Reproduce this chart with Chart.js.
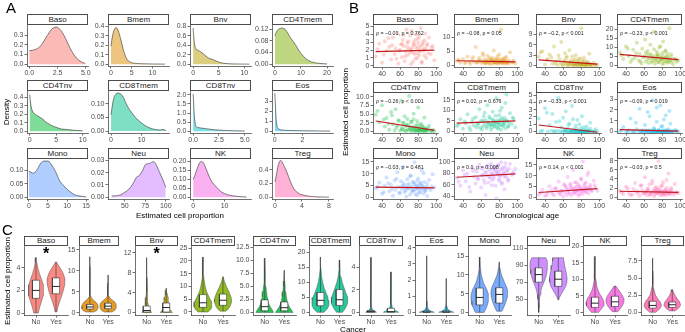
<!DOCTYPE html>
<html>
<head>
<meta charset="utf-8">
<script src="https://cdn.jsdelivr.net/npm/chart.js@4.4.1/dist/chart.umd.min.js"></script>
<style>
  html, body { margin:0; padding:0; background:#ffffff; }
  #fig { position:relative; width:685px; height:332px; overflow:hidden; background:#fff;
         font-family:"Liberation Sans", Arial, Helvetica, sans-serif; color:#000; }
  #fig canvas { position:absolute; }
  .strip { position:absolute; box-sizing:border-box; border:1px solid #4d4d4d; background:#fff;
           font-size:8px; color:#1a1a1a; text-align:center; white-space:nowrap; overflow:hidden; }
  .letter { position:absolute; font-size:15px; line-height:15px; }
  .title { position:absolute; font-size:8px; line-height:9px; white-space:nowrap; color:#000; }
  .rot { transform: translate(-50%,-50%) rotate(-90deg); }
  .ctr { transform: translate(-50%,-50%); }
  .corr { position:absolute; font-size:5.3px; line-height:6px; color:#222; white-space:nowrap; }
  .star { position:absolute; font-size:16px; font-weight:bold; line-height:16px; transform:translateX(-50%); }
</style>
</head>
<body>
<div id="fig"></div>
<script>
// ---------------- shared ----------------
const cellTypes = ["Baso","Bmem","Bnv","CD4Tmem","CD4Tnv","CD8Tmem","CD8Tnv","Eos","Mono","Neu","NK","Treg"];
const palette = ["#F8766D","#DE8C00","#B79F00","#7CAE00","#00BA38","#00C08B","#00BFC4","#00B4F0","#619CFF","#C77CFF","#F564E3","#FF64B0"];

// ---------------- panel A: density ----------------
const densityX = [
  [0,0.3,0.6,1.0,1.4,1.8,2.1,2.4,2.8,3.2,3.6,4.0,4.4,4.8,4.95],
  [0,0.4,0.8,1.2,1.6,2.0,2.5,3.0,3.5,4.0,5,6,8,10,13],
  [0,0.2,0.5,1,1.5,2,2.5,3,3.5,4,5,6,8,11],
  [0,0.5,1,2,3,4,5,6,7,8,9,10,12,14,17,20],
  [0,0.2,0.5,1,1.5,2,2.5,3,3.5,4,5,6,7,8,10],
  [0,0.5,1,1.5,2,3,4,5,6,7,8,10,12,14,16,17,18],
  [0,0.05,0.1,0.2,0.3,0.5,0.8,1.2,1.6,2,2.5,3,4,5],
  [0,0.03,0.06,0.1,0.15,0.2,0.3,0.5,0.8,1.2,1.6,2,2.5,3,3.5,4],
  [0,0.5,1,1.5,2,2.5,3,3.5,4,5,5.5,6,7,8,9,10,11,12,13,14,15],
  [34,40,45,50,55,60,64,68,72,75,80,85,88,92,96,100],
  [0,0.5,1,1.5,2,2.5,3,3.5,4,5,6,7,8,9,10,12,14,17],
  [0,0.2,0.4,0.6,0.8,1.0,1.3,1.6,2.0,2.4,2.8,3.2,3.6,4,5,6,8]
];
const densityY = [
  [0.14,0.145,0.155,0.19,0.26,0.335,0.375,0.385,0.35,0.27,0.17,0.09,0.04,0.015,0.008],
  [0.19,0.3,0.36,0.385,0.37,0.32,0.24,0.15,0.085,0.045,0.016,0.008,0.004,0.002,0.001],
  [0.76,0.5,0.33,0.29,0.26,0.22,0.17,0.13,0.11,0.09,0.045,0.018,0.005,0.001],
  [0.097,0.108,0.116,0.122,0.123,0.118,0.105,0.09,0.078,0.065,0.05,0.037,0.018,0.008,0.003,0.001],
  [0.43,0.32,0.24,0.2,0.18,0.16,0.14,0.11,0.09,0.07,0.045,0.025,0.02,0.012,0.004],
  [0.06,0.1,0.125,0.135,0.14,0.138,0.125,0.1,0.08,0.065,0.05,0.03,0.015,0.007,0.004,0.006,0.002],
  [2.05,1.6,1.0,0.45,0.25,0.2,0.17,0.14,0.11,0.08,0.06,0.04,0.02,0.008],
  [3.85,3.1,2.2,1.2,0.6,0.35,0.2,0.12,0.08,0.06,0.05,0.04,0.03,0.02,0.01,0.005],
  [0.096,0.094,0.09,0.092,0.1,0.112,0.125,0.132,0.135,0.135,0.13,0.12,0.095,0.063,0.045,0.03,0.018,0.009,0.005,0.003,0.001],
  [0.001,0.0012,0.002,0.004,0.0065,0.011,0.016,0.018,0.022,0.0265,0.0275,0.029,0.027,0.021,0.015,0.008],
  [0.1,0.12,0.145,0.17,0.19,0.2,0.198,0.185,0.165,0.12,0.085,0.065,0.045,0.03,0.02,0.01,0.005,0.001],
  [0.22,0.32,0.43,0.5,0.53,0.52,0.46,0.4,0.3,0.2,0.12,0.08,0.05,0.035,0.015,0.006,0.001]
];
const densityXTicks = [["0.0","2.5","5.0"],["0","5","10"],["0","5","10"],["0","10","20"],["0","5","10"],["0","10"],
  ["0.0","2.5","5.0"],["0","2"],["0","5","10","15"],["50","75","100"],["0","10"],["0","4","8"]];
const densityYTicks = [["0.0","0.1","0.2","0.3"],["0.0","0.1","0.2","0.3","0.4"],["0.0","0.2","0.4","0.6","0.8"],
  ["0.00","0.04","0.08","0.12"],["0.0","0.1","0.2","0.3","0.4"],["0.00","0.05","0.10"],["0.0","0.5","1.0","1.5","2.0"],
  ["0","1","2","3"],["0.00","0.05","0.10"],["0.00","0.01","0.02","0.03"],["0.00","0.05","0.10","0.15","0.20"],["0.0","0.2","0.4"]];
const densityXRange = [[-0.2,5.2],[-0.7,14],[-0.6,11.3],[-1.1,22.3],[-0.5,11],[-1,19],[-0.3,5.6],[-0.2,4.2],[-0.5,15.5],[29.5,104],[-1,18.4],[-0.45,8.6]];
const densityYRange = [[-0.019,0.405],[-0.019,0.41],[-0.038,0.82],[-0.006,0.133],[-0.022,0.47],[-0.007,0.147],[-0.1,2.2],[-0.19,4.05],[-0.0068,0.142],[-0.0015,0.031],[-0.01,0.213],[-0.026,0.55]];

// ---------------- panel B: scatter vs age ----------------
const ages = [33,37,40,43,45,48,50,52,54,55,57,58,60,61,62,63,64,65,66,67,68,69,70,71,72,73,74,75,76,77,78,79,80,80,81,82,83,84,85,86,87,88,89,90,92,94,96,98,
  35,42,47,51,56,59,62,64,66,68,69,71,72,73,74,75,76,77,78,79,80,81,82,83,84,85,86,87,88,90,91,95];
const scatterValues = [
  [1.2,2.8,0.4,3.1,1.9,2.4,0.8,3.6,1.5,2.2,4.2,0.3,2.0,2.7,1.1,3.3,2.5,0.6,1.8,4.6,2.9,1.4,2.1,3.8,0.2,2.3,1.7,3.0,2.6,0.9,4.0,1.6,2.4,3.4,1.3,2.0,4.8,0.5,2.7,1.9,3.2,2.2,1.0,2.8,3.6,1.5,2.5,0.7,
   2.1,1.4,3.5,2.6,0.9,1.9,2.8,3.9,1.2,2.4,3.1,1.7,2.0,4.4,0.5,2.7,1.5,3.3,2.2,1.0,2.9,3.7,1.8,2.5,0.4,3.0,2.1,1.3,4.1,2.6,1.6,2.3],
  [1.5,0.8,2.2,1.1,3.0,0.5,1.8,1.2,6.5,0.9,1.6,2.5,0.7,1.3,4.2,1.0,2.0,0.6,1.4,3.3,1.1,0.8,2.7,1.9,0.4,1.5,5.2,1.2,0.9,2.3,1.7,0.6,3.8,1.0,1.4,12.8,0.7,2.1,1.3,0.5,1.8,2.9,0.8,1.1,4.6,0.9,1.5,0.6,
   1.9,0.6,1.2,2.8,0.9,1.5,3.5,0.7,1.1,2.0,0.5,1.6,1.3,2.4,0.8,1.0,1.7,0.6,3.1,1.4,0.9,2.2,1.2,0.7,1.8,1.1,2.6,0.8,1.3,0.5,1.6,1.0],
  [2.5,4.1,0.3,1.8,3.2,0.6,5.5,1.2,0.2,2.9,0.8,6.8,0.1,1.5,3.6,0.4,2.2,0.1,1.0,4.4,0.2,0.7,2.6,0.1,1.3,0.3,3.0,0.1,0.9,1.9,0.2,0.5,10.8,0.1,1.4,0.3,2.3,0.1,0.6,0.2,1.1,0.1,3.4,0.4,0.1,0.8,0.2,0.1,
   3.8,1.6,2.4,0.5,1.9,0.3,1.1,2.7,0.2,0.8,1.5,0.1,0.6,1.8,0.2,0.4,1.2,0.1,0.7,2.0,0.1,0.3,0.9,0.2,1.4,0.1,0.5,0.2,0.8,0.1,0.3,0.1],
  [7.2,3.5,10.4,5.1,1.8,8.6,4.2,12.5,2.6,6.3,0.9,9.1,4.8,14.2,2.1,5.7,7.9,1.2,3.9,11.3,6.0,2.4,4.5,18.6,0.8,3.2,7.4,5.2,1.6,9.8,2.9,4.1,6.6,0.7,13.1,3.6,2.2,8.2,5.0,1.4,4.3,20.5,2.7,6.1,0.5,3.4,1.9,2.6,
   5.5,9.2,3.1,6.8,2.0,4.4,7.1,3.3,5.9,1.5,4.0,8.8,2.5,5.3,3.7,6.2,1.8,4.9,10.5,2.9,3.5,5.0,1.1,7.6,4.2,2.3,6.4,3.0,1.6,4.6,2.1,3.2],
  [4.8,2.6,7.5,1.4,3.9,0.5,5.6,2.1,0.3,6.4,1.7,3.2,0.2,8.9,1.0,2.5,0.4,4.4,0.1,1.9,3.6,0.6,10.2,1.2,0.2,2.8,0.8,5.1,0.1,1.5,0.4,3.0,0.2,6.9,0.9,0.1,2.2,0.5,1.3,0.1,4.0,0.3,0.8,0.1,1.6,0.2,0.5,0.1,
   5.9,3.4,2.2,4.6,1.1,3.0,0.6,2.4,1.5,0.3,1.9,0.8,2.8,0.2,1.2,3.5,0.5,0.9,0.1,2.0,0.4,1.4,0.2,0.7,1.8,0.1,0.6,1.1,0.2,0.4,0.9,0.1],
  [2.5,5.8,1.2,3.9,8.1,0.6,4.4,2.8,6.7,1.9,3.3,10.5,4.9,0.9,2.4,7.2,3.6,5.3,1.5,12.4,4.1,2.7,6.1,0.8,3.4,9.3,5.0,2.2,4.6,15.8,1.7,3.8,7.7,2.9,5.5,0.7,11.2,4.3,3.1,6.4,1.4,17.6,4.7,2.6,8.6,3.5,5.9,2.0,
   3.1,4.7,2.0,6.0,3.8,1.6,5.1,8.9,2.6,4.2,6.9,3.3,1.9,5.6,4.0,2.8,7.4,3.6,5.2,1.3,4.5,9.8,3.0,6.2,2.4,4.9,3.7,13.5,5.4,2.2,4.1,6.6],
  [1.8,0.1,3.2,0.0,0.9,2.4,0.0,1.3,0.1,4.6,0.0,0.6,1.9,0.0,0.2,2.8,0.0,0.4,0.0,1.1,0.0,0.1,3.5,0.0,0.3,0.0,0.8,0.0,1.6,0.0,0.1,0.0,0.5,0.0,2.1,0.0,0.2,0.0,0.0,0.7,0.0,0.1,0.0,1.2,0.0,0.0,0.3,0.0,
   0.0,2.6,0.1,0.0,1.4,0.0,0.2,0.0,0.9,0.0,0.0,1.7,0.0,0.1,0.0,0.4,0.0,0.0,1.0,0.0,0.1,0.0,0.0,0.6,0.0,0.0,0.2,0.0,0.0,0.4,0.0,0.0],
  [0.0,0.4,0.0,0.1,1.2,0.0,0.0,0.2,0.0,2.1,0.0,0.1,0.0,0.6,0.0,0.0,1.8,0.0,0.1,0.0,0.0,2.9,0.0,0.3,0.0,0.0,0.9,0.0,0.1,0.0,2.4,0.0,0.0,0.5,0.0,0.1,0.0,1.5,0.0,0.0,0.2,0.0,0.7,0.0,0.0,0.1,0.0,0.0,
   0.1,0.0,0.0,0.8,0.0,0.0,0.1,0.0,1.4,0.0,0.0,0.2,0.0,0.0,2.2,0.0,0.1,0.0,0.0,0.4,0.0,0.0,1.1,0.0,0.0,0.1,0.0,0.0,1.9,0.0,0.0,0.1],
  [3.8,6.2,1.5,4.9,8.4,2.6,5.3,0.7,7.1,3.2,10.6,4.4,1.9,6.8,3.5,12.9,5.0,2.3,4.1,0.4,7.6,3.9,5.7,1.2,9.2,4.6,2.8,6.3,14.8,3.3,5.1,0.9,4.0,8.0,2.1,5.8,3.6,11.4,4.8,1.6,6.5,2.9,4.3,0.6,7.3,3.1,9.7,4.2,
   4.5,2.2,5.9,3.4,7.8,1.8,4.7,6.0,2.9,5.2,3.7,8.9,4.1,2.5,6.6,3.0,5.5,1.3,4.4,7.0,3.6,5.0,2.0,6.3,4.9,3.2,10.2,4.0,2.7,5.6,3.8,4.6],
  [72,58,85,66,79,48,90,74,62,83,70,95,55,77,88,68,81,42,76,92,64,86,73,97,59,80,71,89,84,36,78,93,67,82,75,99,61,87,79,52,91,74,85,69,96,77,83,88,
   65,78,56,84,71,89,76,63,82,93,73,80,68,87,75,91,58,84,79,95,70,86,77,64,90,81,74,98,83,67,88,79],
  [1.2,3.5,0.6,2.4,5.1,1.8,0.9,4.2,2.7,7.3,1.5,3.1,0.4,6.0,2.2,4.8,1.1,9.4,3.6,2.0,5.5,0.8,3.9,12.6,2.5,4.4,1.7,6.7,3.2,0.7,5.0,2.9,8.1,4.1,1.4,16.5,3.4,6.2,2.3,4.6,10.3,1.9,3.8,5.7,2.8,7.6,4.3,3.0,
   2.0,1.0,3.3,4.0,1.6,2.9,5.4,3.7,2.1,6.3,4.5,1.8,3.5,7.0,2.6,4.9,3.1,5.8,1.5,4.2,8.7,3.4,2.4,5.2,4.0,6.8,2.9,3.8,11.4,4.7,3.2,5.5],
  [1.4,0.7,2.3,1.0,0.4,1.8,3.1,0.9,1.2,0.3,2.6,1.5,0.8,4.4,1.1,0.5,1.9,1.3,2.8,0.6,1.0,3.6,1.4,0.2,2.1,1.2,0.8,1.6,7.9,0.9,1.3,2.4,0.5,1.1,3.3,0.7,1.5,0.4,2.0,1.0,5.2,0.8,1.2,1.7,0.6,2.9,1.1,0.9,
   1.1,1.9,0.6,1.4,2.5,0.8,1.2,1.7,0.5,1.0,3.0,1.3,0.7,1.6,2.2,0.9,1.1,1.8,0.4,1.3,2.6,1.0,0.7,1.5,1.2,3.8,0.9,1.4,0.6,2.0,1.1,0.8]
];
const trendStart = [1.8,1.55,1.6,6.0,3.0,3.9,0.9,0.17,4.3,73,2.2,1.3];
const trendEnd   = [2.0,1.15,0.4,3.1,0.3,5.0,-0.1,0.03,4.0,79,4.0,1.05];
const corrLabels = ["ρ = −0.01, p = 0.762","ρ = −0.08, p = 0.05","ρ = −0.2, p < 0.001","ρ = −0.23, p < 0.001",
  "ρ = −0.26, p < 0.001","ρ = 0.02, p = 0.676","ρ = −0.33, p < 0.001","ρ = −0.09, p = 0.019",
  "ρ = −0.03, p = 0.481","ρ = 0.1, p = 0.008","ρ = 0.14, p < 0.001","ρ = −0.03, p = 0.5"];
const ageTicks = ["40","60","80","100"];
const ageRange = [30,102];
const scatterYTicks = [["0","1","2","3","4","5"],["0","5","10"],["0","3","6","9"],["0","5","10","15","20"],
  ["0.0","2.5","5.0","7.5","10.0"],["0","5","10","15"],["0","1","2","3","4","5"],["0","1","2","3"],
  ["0","5","10","15"],["40","60","80","100"],["0","5","10","15"],["0","2","4","6","8"]];
const scatterYRange = [[-0.15,5.15],[-0.7,14.3],[-0.45,11.7],[-1,22.2],[-0.45,11.0],[-0.8,18.2],[-0.2,5.27],[-0.15,3.55],[-0.7,16.1],[35,104.5],[-0.8,17.6],[-0.4,8.35]];

// ---------------- panel C: violins by cancer ----------------
const groups = ["No","Yes"];
// [value, relative density width]
const violinNo = [
  [[0,0.25],[0.5,0.4],[1,0.6],[1.5,0.78],[2,0.85],[2.5,0.8],[3,0.6],[3.5,0.38],[4,0.2],[4.5,0.08],[4.9,0.02]],
  [[0.2,0.45],[0.5,0.8],[1,0.97],[1.5,1.0],[2,0.95],[2.5,0.75],[3,0.45],[3.5,0.2],[4,0.1],[5,0.05],[7,0.025],[9,0.015],[11,0.01],[13.3,0.005]],
  [[0,0.55],[0.3,0.45],[0.6,0.3],[1,0.22],[1.5,0.18],[2,0.14],[3,0.1],[4,0.07],[5,0.05],[7,0.03],[9,0.02],[11,0.01]],
  [[0,0.55],[1,0.85],[2,1.0],[3,1.0],[4,0.92],[5,0.8],[6,0.65],[8,0.4],[10,0.25],[12,0.14],[14,0.08],[17,0.04],[21.5,0.01]],
  [[0,1.0],[0.5,0.85],[1,0.65],[1.5,0.5],[2,0.4],[3,0.28],[4,0.2],[5,0.13],[6,0.08],[8,0.04],[10.4,0.01]],
  [[0,0.4],[1,0.75],[2,0.95],[3,1.0],[4,0.97],[5,0.88],[6,0.72],[8,0.45],[10,0.26],[12,0.13],[15,0.05],[18.5,0.01]],
  [[0,0.6],[0.1,0.4],[0.2,0.2],[0.4,0.08],[0.7,0.04],[1,0.03],[2,0.02],[3,0.015],[4.9,0.005]],
  [[0,0.85],[0.05,0.6],[0.1,0.35],[0.2,0.15],[0.4,0.06],[0.7,0.03],[1,0.02],[2,0.015],[3.5,0.005]],
  [[0,0.5],[1,0.7],[2,0.88],[3,0.98],[4,1.0],[5,0.95],[6,0.82],[7,0.62],[8,0.42],[10,0.18],[12,0.07],[14.8,0.01]],
  [[34,0.01],[40,0.04],[45,0.06],[50,0.1],[55,0.16],[60,0.25],[65,0.4],[70,0.6],[75,0.78],[80,0.9],[85,0.97],[90,1.0],[95,0.95],[99,0.8]],
  [[0,0.4],[1,0.7],[2,0.95],[3,1.0],[4,0.88],[5,0.66],[6,0.45],[7,0.3],[8,0.2],[10,0.1],[13,0.04],[17,0.01]],
  [[0,0.35],[0.5,0.8],[1,1.0],[1.5,0.85],[2,0.55],[2.5,0.32],[3,0.2],[3.5,0.12],[4,0.07],[5,0.035],[6,0.02],[7.9,0.005]]
];
const violinYes = [
  [[0.1,0.1],[0.5,0.2],[1,0.4],[1.5,0.62],[2,0.82],[2.5,0.97],[3,1.0],[3.5,0.8],[4,0.45],[4.3,0.2],[4.5,0.05]],
  [[0.2,0.45],[0.5,0.75],[1,0.95],[1.5,1.0],[2,0.98],[2.5,0.85],[3,0.55],[3.5,0.25],[4,0.1],[5,0.04],[7,0.02],[9,0.01]],
  [[0,0.7],[0.3,0.55],[0.6,0.42],[1,0.38],[1.5,0.34],[2,0.3],[2.5,0.25],[3,0.2],[3.5,0.14],[4,0.08],[4.5,0.04],[4.9,0.02]],
  [[0.3,0.3],[1,0.55],[2,0.75],[3,0.88],[4,0.95],[5,0.95],[6,0.88],[8,0.65],[10,0.38],[12,0.15],[13.8,0.03]],
  [[0,1.0],[0.5,0.8],[1,0.6],[1.5,0.45],[2,0.35],[3,0.24],[4,0.16],[5,0.1],[6,0.06],[8.1,0.01]],
  [[0,0.35],[1,0.6],[2,0.8],[3,0.92],[4,0.97],[5,0.92],[6,0.8],[8,0.55],[10,0.32],[12,0.16],[15,0.06],[17.5,0.01]],
  [[0,0.85],[0.1,0.6],[0.2,0.35],[0.4,0.15],[0.7,0.08],[1,0.05],[1.5,0.04],[1.8,0.06],[2.2,0.03],[3.6,0.005]],
  [[0,0.85],[0.05,0.62],[0.1,0.38],[0.2,0.16],[0.4,0.06],[0.7,0.03],[1,0.02],[2.1,0.005]],
  [[0.3,0.3],[1,0.45],[2,0.62],[3,0.78],[4,0.9],[5,0.95],[6,0.92],[7,0.8],[8,0.6],[10,0.25],[12,0.07],[13.5,0.02]],
  [[49,0.05],[52,0.15],[55,0.3],[60,0.58],[65,0.85],[70,0.98],[75,1.0],[80,0.93],[85,0.82],[90,0.72],[95,0.65],[99,0.6]],
  [[0.2,0.3],[1,0.55],[2,0.82],[3,0.98],[4,1.0],[5,0.85],[6,0.6],[7,0.35],[8,0.1]],
  [[0.2,0.3],[0.5,0.65],[1,0.95],[1.5,0.85],[2,0.55],[2.5,0.3],[3,0.12],[3.3,0.04]]
];
// [q1, median, q3]
const boxNo  = [[1.3,2.0,2.9],[0.9,1.4,2.0],[0.1,0.4,1.3],[1.8,3.6,6.8],[0.3,1.1,2.4],[2.2,4.0,6.6],[0.0,0.05,0.15],[0.0,0.02,0.08],[2.0,4.0,6.5],[70,79,87],[1.5,2.8,4.6],[0.6,1.0,1.6]];
const boxYes = [[1.7,2.35,3.1],[1.0,1.6,2.3],[0.1,1.0,1.9],[2.6,4.6,7.0],[0.3,0.9,2.0],[2.3,4.2,7.6],[0.0,0.05,0.35],[0.0,0.02,0.08],[2.5,4.8,6.6],[65,73.5,83],[1.8,3.2,4.9],[0.7,1.1,1.5]];
const violinYTicks = [["0","2","4"],["0","5","10","15"],["0","4","8","12"],["0","5","10","15","20","25"],
  ["0.0","2.5","5.0","7.5","10.0","12.5"],["0","5","10","15","20"],["0","2","4"],["0","1","2","3","4"],
  ["0","5","10","15"],["50","70","90","110"],["0","5","10","15","20"],["0.0","2.5","5.0","7.5"]];
const violinYRange = [[-0.17,5.9],[-0.5,15.8],[-0.5,13.3],[-1.2,25.8],[-0.5,12.7],[-0.9,22.1],[-0.25,5.9],[-0.17,4.1],[-0.7,17.7],[31,112.7],[-0.8,20.1],[-0.4,9.65]];
const significance = ["*","","*","","","","","","","","",""];

// ---------------- drawing ----------------
Chart.defaults.font.family = '"Liberation Sans", Arial, sans-serif';
const fig = document.getElementById('fig');

function rgba(hex, a) {
  const n = parseInt(hex.slice(1), 16);
  return `rgba(${n >> 16},${(n >> 8) & 255},${n & 255},${a})`;
}
function addDiv(cls, text, css) {
  const d = document.createElement('div');
  d.className = cls; d.textContent = text;
  Object.assign(d.style, css);
  fig.appendChild(d);
  return d;
}
const gridOpts = {display:true, drawOnChartArea:false, drawTicks:true, tickLength:2.5, tickWidth:0.7, color:'#333', lineWidth:0.7};
const borderOpts = {display:true, color:'#333', width:0.7};
function valueAxis(range, labels, isX, fit) {
  return {
    type:'linear', position: isX ? 'bottom' : 'left', min:range[0], max:range[1], bounds:'data',
    afterBuildTicks: s => { s.ticks = labels.map(l => ({value: parseFloat(l)})); },
    afterFit: s => { if (isX) s.height = fit; else s.width = fit; },
    grid: gridOpts, border: borderOpts,
    ticks: {autoSkip:false, maxRotation:0, minRotation:0, padding: isX ? 0 : 1, color:'#4d4d4d', font:{size:7},
            callback: (v, i) => labels[i]}
  };
}
function groupAxis(fit) {
  return {
    type:'linear', position:'bottom', min:0.4, max:2.6, bounds:'data',
    afterBuildTicks: s => { s.ticks = groups.map((g, k) => ({value: k + 1})); },
    afterFit: s => { s.height = fit; },
    grid: gridOpts, border: borderOpts,
    ticks: {autoSkip:false, maxRotation:0, minRotation:0, padding:0, color:'#4d4d4d', font:{size:7},
            callback: (v, i) => groups[i]}
  };
}
function makeChart(L, T, W, H, pad, type, datasets, xAxis, yAxis) {
  const c = document.createElement('canvas');
  const cw = pad.ay + W + pad.pr, ch = pad.pt + H + pad.ax;
  c.width = cw; c.height = ch;
  c.style.left = (L - pad.ay) + 'px'; c.style.top = (T - pad.pt) + 'px';
  c.style.width = cw + 'px'; c.style.height = ch + 'px';
  fig.appendChild(c);
  new Chart(c, {
    type, data: {datasets},
    options: {
      responsive:false, animation:false, events:[], devicePixelRatio:1,
      layout: {padding:{top:pad.pt, right:pad.pr, left:0, bottom:0}, autoPadding:false},
      plugins: {legend:{display:false}, tooltip:{enabled:false}, title:{display:false}},
      scales: {x: xAxis, y: yAxis}
    }
  });
}

// Panel A
const layA = {cols:[27,108,190,272], w:61, rows:[25,91,159], h:[41,42,40], strips:[14,80,148]};
cellTypes.forEach((ct, i) => {
  const r = Math.floor(i / 4), c = i % 4;
  const L = layA.cols[c], T = layA.rows[r], W = layA.w, H = layA.h[r];
  const pts = densityX[i].map((x, k) => ({x, y: densityY[i][k]}));
  makeChart(L, T, W, H, {ay:22, ax:11, pt:5, pr:8}, 'line',
    [{data:pts, borderColor:'#333', borderWidth:0.6, backgroundColor:rgba(palette[i], 0.5),
      fill:'origin', pointRadius:0, cubicInterpolationMode:'monotone'}],
    valueAxis(densityXRange[i], densityXTicks[i], true, 11),
    valueAxis(densityYRange[i], densityYTicks[i], false, 22));
  const sh = T - layA.strips[r];
  addDiv('strip', ct, {left:L+'px', top:layA.strips[r]+'px', width:W+'px', height:sh+'px', lineHeight:(sh-2)+'px'});
});

// Panel B
const layB = {cols:[373,454,536,617], w:65, rows:[25,93,159], h:[42,40,40], strips:[14,82,148]};
const ageMin = Math.min(...ages), ageMax = Math.max(...ages);
cellTypes.forEach((ct, i) => {
  const r = Math.floor(i / 4), c = i % 4;
  const L = layB.cols[c], T = layB.rows[r], W = layB.w, H = layB.h[r];
  const pts = ages.map((a, k) => ({x:a, y:scatterValues[i][k]}));
  makeChart(L, T, W, H, {ay:22, ax:11, pt:5, pr:8}, 'scatter', [
      {data:[{x:ageMin, y:trendStart[i]}, {x:ageMax, y:trendEnd[i]}], showLine:true,
       borderColor:'#C4161C', borderWidth:1.2, pointRadius:0, order:0},
      {data:pts, pointRadius:2, backgroundColor:rgba(palette[i], 0.3), borderColor:'rgba(0,0,0,0)',
       borderWidth:0, order:1}
    ],
    valueAxis(ageRange, ageTicks, true, 11),
    valueAxis(scatterYRange[i], scatterYTicks[i], false, 22));
  const sh = T - layB.strips[r];
  addDiv('strip', ct, {left:L+'px', top:layB.strips[r]+'px', width:W+'px', height:sh+'px', lineHeight:(sh-2)+'px'});
  addDiv('corr', corrLabels[i], {left:(L+3)+'px', top:(T+5)+'px'});
});

// Panel C
const layC = {cols:[24,79,135,191,253,309,359,415,468,527,583,641], w:[44,40,43,44,43,42,44,43,43,43,44,43], top:246, h:69, strip:236};
const VW = 0.45, BW = 0.18;
function violinPoly(center, prof) {
  const right = prof.map(([y, w]) => ({x:center + w * VW, y}));
  const left = prof.slice().reverse().map(([y, w]) => ({x:center - w * VW, y}));
  return right.concat(left, [right[0]]);
}
function boxPoly(center, b) {
  return [{x:center-BW, y:b[0]}, {x:center+BW, y:b[0]}, {x:center+BW, y:b[2]}, {x:center-BW, y:b[2]}, {x:center-BW, y:b[0]}];
}
cellTypes.forEach((ct, i) => {
  const L = layC.cols[i], W = layC.w[i], T = layC.top, H = layC.h;
  const ds = [];
  [[violinNo[i], boxNo[i]], [violinYes[i], boxYes[i]]].forEach(([prof, box], g) => {
    const cx = g + 1;
    ds.push({data:violinPoly(cx, prof), fill:'shape', backgroundColor:rgba(palette[i], 0.85),
             borderColor:'rgba(60,60,60,0.85)', borderWidth:0.5, pointRadius:0, order:4});
    ds.push({data:[{x:cx, y:prof[0][0]}, {x:cx, y:prof[prof.length-1][0]}], fill:false,
             borderColor:'#333', borderWidth:0.6, pointRadius:0, order:3});
    ds.push({data:boxPoly(cx, box), fill:'shape', backgroundColor:'#ffffff',
             borderColor:'#333', borderWidth:0.6, pointRadius:0, order:2});
    ds.push({data:[{x:cx-BW, y:box[1]}, {x:cx+BW, y:box[1]}], fill:false,
             borderColor:'#111', borderWidth:0.9, pointRadius:0, order:1});
  });
  makeChart(L, T, W, H, {ay:18, ax:10, pt:5, pr:6}, 'line', ds,
    groupAxis(10), valueAxis(violinYRange[i], violinYTicks[i], false, 18));
  addDiv('strip', ct, {left:L+'px', top:layC.strip+'px', width:W+'px', height:(T-layC.strip)+'px', lineHeight:(T-layC.strip-2)+'px'});
  if (significance[i]) addDiv('star', significance[i], {left:(L + W/2)+'px', top:'246px'});
});

// titles and panel letters
addDiv('letter', 'A', {left:'6px', top:'0px'});
addDiv('letter', 'B', {left:'349px', top:'0px'});
addDiv('letter', 'C', {left:'2px', top:'222px'});
addDiv('title rot', 'Density', {left:'6px', top:'112px'});
addDiv('title ctr', 'Estimated cell proportion', {left:'180px', top:'215px'});
addDiv('title rot', 'Estimated cell proportion', {left:'345px', top:'112px'});
addDiv('title ctr', 'Chronological age', {left:'527px', top:'215px'});
addDiv('title rot', 'Estimated cell proportion', {left:'7px', top:'281px'});
addDiv('title ctr', 'Cancer', {left:'353px', top:'328.5px'});
</script>
</body>
</html>
